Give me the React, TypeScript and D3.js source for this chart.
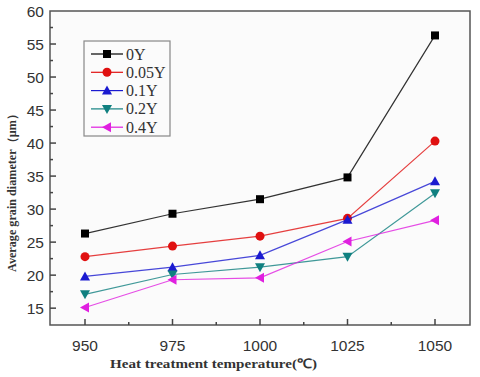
import React from "react";
import * as d3 from "d3";

const temps = [950, 975, 1000, 1025, 1050];
const seriesNames = ["0Y", "0.05Y", "0.1Y", "0.2Y", "0.4Y"];
const y0 = [26.3, 29.3, 31.5, 34.8, 56.3];
const y005 = [22.8, 24.4, 25.9, 28.6, 40.3];
const y01 = [19.8, 21.2, 23.0, 28.4, 34.2];
const y02 = [17.1, 20.1, 21.2, 22.8, 32.4];
const y04 = [15.1, 19.3, 19.6, 25.1, 28.3];
const xTicks = [950, 975, 1000, 1025, 1050];
const yTicks = [15, 20, 25, 30, 35, 40, 45, 50, 55, 60];

const colors = ["#000000", "#e01010", "#1a1ad0", "#108080", "#e020e0"];
const shapes = ["square", "circle", "up", "down", "left"];

function Marker({ shape, x, y, color }: { shape: string; x: number; y: number; color: string }) {
  const s = 4;
  if (shape === "square") return <rect x={x - s} y={y - s} width={2 * s} height={2 * s} fill={color} />;
  if (shape === "circle") return <circle cx={x} cy={y} r={s + 0.5} fill={color} />;
  let pts = "";
  const t = 5;
  if (shape === "up") pts = `${x},${y - t} ${x - t},${y + t * 0.8} ${x + t},${y + t * 0.8}`;
  if (shape === "down") pts = `${x},${y + t} ${x - t},${y - t * 0.8} ${x + t},${y - t * 0.8}`;
  if (shape === "left") pts = `${x - t},${y} ${x + t * 0.8},${y - t} ${x + t * 0.8},${y + t}`;
  return <polygon points={pts} fill={color} />;
}

export default function App() {
  const W = 480, H = 377;
  const left = 50, right = 470, top = 11, bottom = 325;
  const x = d3.scaleLinear().domain([940, 1060]).range([left, right]);
  const y = d3.scaleLinear().domain([12.45, 60]).range([bottom, top]);
  const data = [y0, y005, y01, y02, y04];
  const line = d3.line<number>().x((_, i) => x(temps[i])).y((d) => y(d));
  const minorX = d3.range(950, 1060, 12.5);
  const minorY = d3.range(15, 60, 2.5);
  const tickFont = "'Liberation Sans', Arial, sans-serif";
  const serif = "'Liberation Serif', 'Times New Roman', Times, serif";

  return (
    <svg width={W} height={H} style={{ position: "absolute", left: 0, top: 0, background: "#fff" }}>
      <rect x={left} y={top} width={right - left} height={bottom - top} fill="#fbfbfb" stroke="#555" strokeWidth={1.5} />
      {minorX.map((v) => (
        <line key={"mx" + v} x1={x(v)} x2={x(v)} y1={bottom} y2={bottom - (xTicks.includes(v) ? 6 : 3)} stroke="#444" strokeWidth={1.5} />
      ))}
      {minorY.map((v) => (
        <line key={"my" + v} x1={left} x2={left + (yTicks.includes(v) ? 6 : 3)} y1={y(v)} y2={y(v)} stroke="#444" strokeWidth={1.5} />
      ))}
      {xTicks.map((v) => (
        <text key={"xt" + v} x={x(v)} y={bottom + 26} textAnchor="middle" fontFamily={tickFont} fontSize={15.5} fill="#333">{v}</text>
      ))}
      {yTicks.map((v) => (
        <text key={"yt" + v} x={44} y={y(v) + 5.5} textAnchor="end" fontFamily={tickFont} fontSize={15.5} fill="#333">{v}</text>
      ))}
      {data.map((ser, si) => (
        <g key={"s" + si}>
          <path d={line(ser) || ""} fill="none" stroke={colors[si]} strokeWidth={1.2} opacity={0.8} />
          {ser.map((v, i) => (
            <Marker key={i} shape={shapes[si]} x={x(temps[i])} y={y(v)} color={colors[si]} />
          ))}
        </g>
      ))}
      <rect x={84} y={41} width={86} height={95} fill="#fbfbfb" stroke="#888" strokeWidth={1.2} />
      {seriesNames.map((n, i) => {
        const ly = 54 + i * 18.3;
        return (
          <g key={"l" + n}>
            <line x1={91} x2={123} y1={ly} y2={ly} stroke={colors[i]} strokeWidth={1.2} />
            <Marker shape={shapes[i]} x={107} y={ly} color={colors[i]} />
            <text x={126} y={ly + 5.5} fontFamily={serif} fontSize={16} fill="#333">{n}</text>
          </g>
        );
      })}
      <text x={110} y={368} textLength={207} lengthAdjust="spacingAndGlyphs" fontFamily={serif} fontWeight="bold" fontSize={13} fill="#333">Heat treatment temperature(℃)</text>
      <text transform={`translate(16,272) rotate(-90)`} textLength={164} lengthAdjust="spacingAndGlyphs" fontFamily={serif} fontWeight="bold" fontSize={12} fill="#333">Average grain diameter（μm）</text>
    </svg>
  );
}
